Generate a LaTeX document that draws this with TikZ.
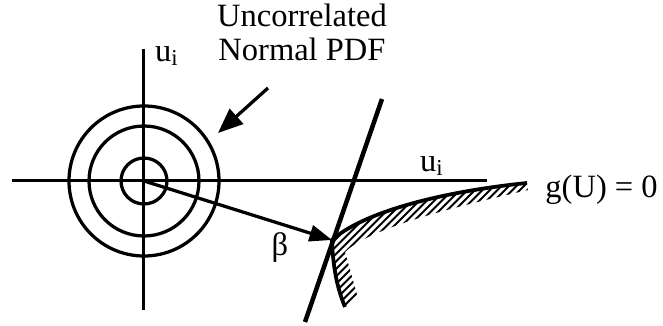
\documentclass[tikz,border=0pt]{standalone}
\usepackage{fontspec}
\setmainfont{Liberation Serif}
\usetikzlibrary{arrows.meta,positioning,calc}
\tikzset{
    A/.style={line width=1.2pt},
    C/.style={line width=1.3pt},
    H/.style={line width=0.8pt},
    L/.style={font=\fontsize{13}{13.6}\selectfont, inner sep=0pt},
    P/.style={line width=1.3pt, -{Triangle[length=9pt,width=6.5pt]}}
}
\begin{document}
\begin{tikzpicture}[x=0.4pt,y=-0.4pt]
    \useasboundingbox (0,0) rectangle (663,326);
    \coordinate (O) at (144,181); % origin
    \coordinate (T) at (332,240); % design point
    \coordinate (E) at (527,183);
    \coordinate (B) at (345,307);

    \draw[A] (144,49) -- (144,310);
    \draw[A] (12,181) -- (487,181);
    \foreach \r in {23,55,75}{\draw[C] (O) circle[radius=\r];}

    \begin{scope} % failure side
        \clip (T) .. controls (360,215) and (430,193) .. (E) -- (528,190)
            .. controls (450,208) and (370,228) .. (345,252) -- (358,298) -- (B)
            .. controls (338,290) and (333,270) .. (T);
        \foreach \k in {0,...,47}{\draw[H] (230+7.5*\k,330) -- ++(160,-160);}
    \end{scope}
    \draw[line width=1.5pt] (E) .. controls (430,193) and (360,215) .. (T)
        .. controls (333,270) and (338,290) .. (B);
    \draw[line width=1.8pt] (382,99) -- (305,322);

    \draw[P] (O) -- (T);
    \coordinate (Pa) at (268,88);
    \coordinate (Pb) at (218,133);
    \draw[P,-{Triangle[length=10pt,width=8pt]}] (Pa) -- (Pb);

    \node[L,align=center] (pdf) at (302,32) {Uncorrelated\\Normal PDF};
    \node[L] (uv) at (167,56) {u\textsubscript{i}};
    \node[L] (uh) at (432,166) {u\textsubscript{i}};
    \node[L] (beta) at (280,248) {β};
    \node[L,anchor=west] (g) at (545,190) {g(U) = 0};
\end{tikzpicture}
\end{document}
